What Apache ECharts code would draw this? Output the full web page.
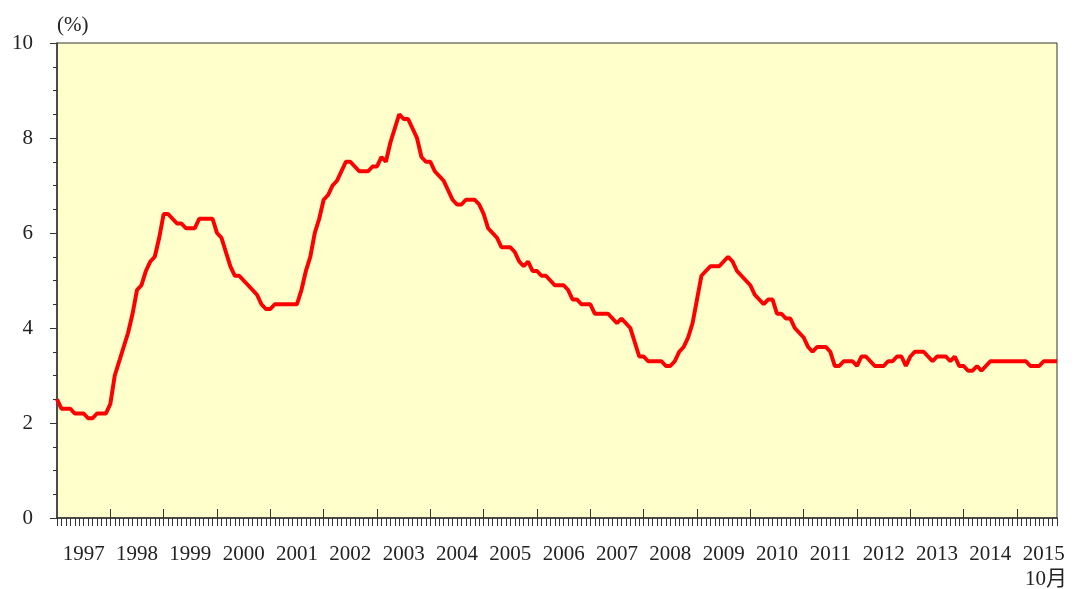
<html>
<head>
    <meta charset="UTF-8">
    <title>失业率</title>
    <script src="https://cdn.jsdelivr.net/npm/echarts@6/dist/echarts.min.js"></script>
    <style>
        body { margin: 0; background: #fff; }
    </style>
</head>
<body>
<div id="main" style="width: 1078px;height:589px;"></div>
<script>
    // 年份 (1997年1月 - 2015年10月, 每月一点)
    var years = [1997, 1998, 1999, 2000, 2001, 2002, 2003, 2004, 2005, 2006,
        2007, 2008, 2009, 2010, 2011, 2012, 2013, 2014, 2015];
    var lastMonth = 10;
    var endLabel = '10月';

    // 失业率 (%)
    var rates = [
        2.5, 2.3, 2.3, 2.3, 2.2, 2.2, 2.2, 2.1, 2.1, 2.2, 2.2, 2.2,   // 1997
        2.4, 3.0, 3.3, 3.6, 3.9, 4.3, 4.8, 4.9, 5.2, 5.4, 5.5, 5.9,   // 1998
        6.4, 6.4, 6.3, 6.2, 6.2, 6.1, 6.1, 6.1, 6.3, 6.3, 6.3, 6.3,   // 1999
        6.0, 5.9, 5.6, 5.3, 5.1, 5.1, 5.0, 4.9, 4.8, 4.7, 4.5, 4.4,   // 2000
        4.4, 4.5, 4.5, 4.5, 4.5, 4.5, 4.5, 4.8, 5.2, 5.5, 6.0, 6.3,   // 2001
        6.7, 6.8, 7.0, 7.1, 7.3, 7.5, 7.5, 7.4, 7.3, 7.3, 7.3, 7.4,   // 2002
        7.4, 7.6, 7.5, 7.9, 8.2, 8.5, 8.4, 8.4, 8.2, 8.0, 7.6, 7.5,   // 2003
        7.5, 7.3, 7.2, 7.1, 6.9, 6.7, 6.6, 6.6, 6.7, 6.7, 6.7, 6.6,   // 2004
        6.4, 6.1, 6.0, 5.9, 5.7, 5.7, 5.7, 5.6, 5.4, 5.3, 5.4, 5.2,   // 2005
        5.2, 5.1, 5.1, 5.0, 4.9, 4.9, 4.9, 4.8, 4.6, 4.6, 4.5, 4.5,   // 2006
        4.5, 4.3, 4.3, 4.3, 4.3, 4.2, 4.1, 4.2, 4.1, 4.0, 3.7, 3.4,   // 2007
        3.4, 3.3, 3.3, 3.3, 3.3, 3.2, 3.2, 3.3, 3.5, 3.6, 3.8, 4.1,   // 2008
        4.6, 5.1, 5.2, 5.3, 5.3, 5.3, 5.4, 5.5, 5.4, 5.2, 5.1, 5.0,   // 2009
        4.9, 4.7, 4.6, 4.5, 4.6, 4.6, 4.3, 4.3, 4.2, 4.2, 4.0, 3.9,   // 2010
        3.8, 3.6, 3.5, 3.6, 3.6, 3.6, 3.5, 3.2, 3.2, 3.3, 3.3, 3.3,   // 2011
        3.2, 3.4, 3.4, 3.3, 3.2, 3.2, 3.2, 3.3, 3.3, 3.4, 3.4, 3.2,   // 2012
        3.4, 3.5, 3.5, 3.5, 3.4, 3.3, 3.4, 3.4, 3.4, 3.3, 3.4, 3.2,   // 2013
        3.2, 3.1, 3.1, 3.2, 3.1, 3.2, 3.3, 3.3, 3.3, 3.3, 3.3, 3.3,   // 2014
        3.3, 3.3, 3.3, 3.2, 3.2, 3.2, 3.3, 3.3, 3.3, 3.3              // 2015
    ];

    var yTicks = { min: 0, max: 10, interval: 2 };

    // 类目: 每月一个
    var months = [];
    years.forEach(function (y) {
        var n = (y === years[years.length - 1]) ? lastMonth : 12;
        for (var m = 1; m <= n; m++) {
            months.push(y + '-' + m);
        }
    });

    var font = '"Liberation Serif", "Times New Roman", serif';
    var axisColor = '#333';

    var myChart = echarts.init(document.getElementById('main'));
    var option = {
        animation: false,
        grid: {
            left: 57, right: 21, top: 43, bottom: 71,
            show: true,
            backgroundColor: '#FFFFCC',
            borderColor: axisColor,
            borderWidth: 1
        },
        xAxis: [
            {
                type: 'category',
                position: 'bottom',
                data: months,
                boundaryGap: false,
                axisLine: { lineStyle: { color: axisColor, width: 1.5 } },
                // 每月小刻度
                axisTick: { show: true, interval: 0, length: 8, lineStyle: { color: axisColor } },
                axisLabel: {
                    interval: function (index) { return index % 12 === 6; },
                    formatter: function (value) { return value.split('-')[0]; },
                    margin: 26,
                    fontSize: 21,
                    fontFamily: font,
                    color: '#222'
                },
                splitLine: { show: false }
            },
            {
                // 年份大刻度
                type: 'category',
                position: 'bottom',
                data: months,
                boundaryGap: false,
                axisLine: { show: false },
                axisTick: {
                    show: true,
                    inside: true,
                    length: 9,
                    interval: function (index) { return index % 12 === 0 && index > 0; },
                    lineStyle: { color: axisColor }
                },
                axisLabel: { show: false },
                splitLine: { show: false }
            }
        ],
        yAxis: {
            type: 'value',
            min: yTicks.min,
            max: yTicks.max,
            interval: yTicks.interval,
            name: '(%)',
            nameLocation: 'end',
            nameGap: 7,
            nameTextStyle: { align: 'left', fontSize: 21, fontFamily: font, color: '#222' },
            axisLine: { show: true, lineStyle: { color: axisColor, width: 1.5 } },
            axisTick: { show: true, length: 7, lineStyle: { color: axisColor } },
            minorTick: { show: true, splitNumber: 4, length: 4, lineStyle: { color: axisColor } },
            axisLabel: { margin: 24, fontSize: 21, fontFamily: font, color: '#222' },
            splitLine: { show: false }
        },
        graphic: [
            {
                type: 'text',
                right: 11,
                top: 569,
                style: { text: endLabel, fontSize: 21, fontFamily: font + ', "Noto Sans CJK SC"', fill: '#222' }
            }
        ],
        series: [
            {
                type: 'line',
                data: rates,
                showSymbol: false,
                symbol: 'none',
                lineStyle: { color: '#FF0000', width: 4 },
                itemStyle: { color: '#FF0000' }
            }
        ]
    };
    myChart.setOption(option);
</script>
</body>
</html>
